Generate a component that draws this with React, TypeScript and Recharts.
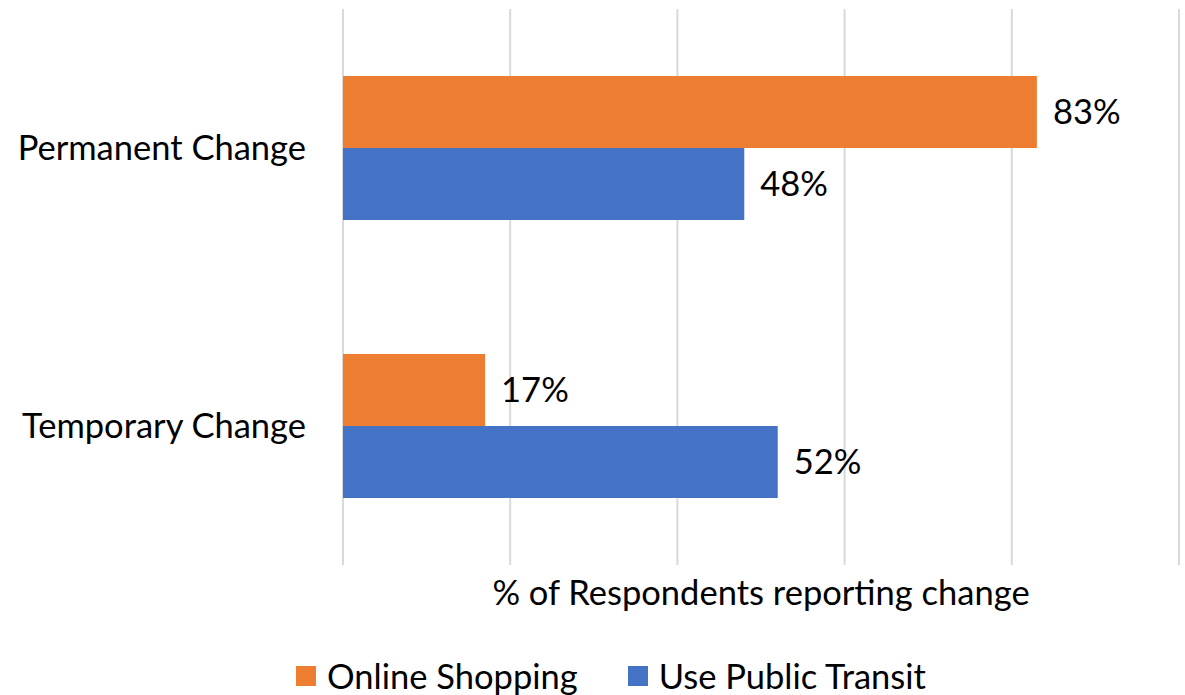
import React from "react";
import {
  BarChart,
  Bar,
  XAxis,
  YAxis,
  CartesianGrid,
  Legend,
  LabelList,
} from "recharts";

const categories = ["Permanent Change", "Temporary Change"];
const onlineShopping = [83, 17];
const publicTransit = [48, 52];
const xTicks = [0, 20, 40, 60, 80, 100];
const axisTitle = "% of Respondents reporting change";

const ORANGE = "#ED7D31";
const BLUE = "#4472C4";
const FONT = "Lato, 'Open Sans', sans-serif";
const FS = 34.5;

const data = categories.map((c, i) => ({
  category: c,
  online: onlineShopping[i],
  transit: publicTransit[i],
}));

const series = [
  { key: "online", name: "Online Shopping", color: ORANGE },
  { key: "transit", name: "Use Public Transit", color: BLUE },
];

function LegendContent() {
  return (
    <div
      style={{
        display: "flex",
        justifyContent: "center",
        paddingLeft: 37,
        fontFamily: FONT,
        fontSize: FS,
        lineHeight: 1,
        color: "#000",
      }}
    >
      {series.map((s, i) => (
        <div
          key={s.key}
          style={{
            display: "flex",
            alignItems: "center",
            marginLeft: i === 0 ? 0 : 50,
          }}
        >
          <span
            style={{
              width: 20,
              height: 20,
              background: s.color,
              display: "inline-block",
              marginRight: 11,
            }}
          />
          <span>{s.name}</span>
        </div>
      ))}
    </div>
  );
}

export default function App() {
  return (
    <div
      style={{
        position: "absolute",
        left: 0,
        top: 0,
        width: 1185,
        height: 695,
        background: "#fff",
        fontFamily: FONT,
        overflow: "hidden",
      }}
    >
      <BarChart
        width={1185}
        height={695}
        data={data}
        layout="vertical"
        margin={{ top: 9, right: 6, left: 0, bottom: 90 }}
        barGap={0}
        style={{ fontFamily: FONT }}
      >
        <CartesianGrid horizontal={false} stroke="#d9d9d9" strokeWidth={2} />
        <XAxis
          type="number"
          domain={[0, 100]}
          ticks={xTicks}
          tick={() => <g />}
          axisLine={false}
          tickLine={false}
          height={40}
          label={{
            value: axisTitle,
            position: "insideBottom",
            offset: 0,
            fontSize: FS,
            fill: "#000",
            fontFamily: FONT,
          }}
        />
        <YAxis
          type="category"
          dataKey="category"
          width={343}
          axisLine={false}
          tickLine={false}
          tickSize={0}
          tickMargin={37}
          tick={{ fill: "#000", fontSize: FS, fontFamily: FONT }}
        />
        <Legend
          verticalAlign="middle"
          content={<LegendContent />}
          wrapperStyle={{ top: 659, left: 0, width: 1185 }}
        />
        {series.map((s) => (
          <Bar
            key={s.key}
            dataKey={s.key}
            name={s.name}
            fill={s.color}
            barSize={72}
            isAnimationActive={false}
          >
            <LabelList
              dataKey={s.key}
              position="right"
              offset={16}
              formatter={(v: number) => `${v}%`}
              fill="#000"
              fontSize={FS}
              fontFamily={FONT}
            />
          </Bar>
        ))}
      </BarChart>
    </div>
  );
}
